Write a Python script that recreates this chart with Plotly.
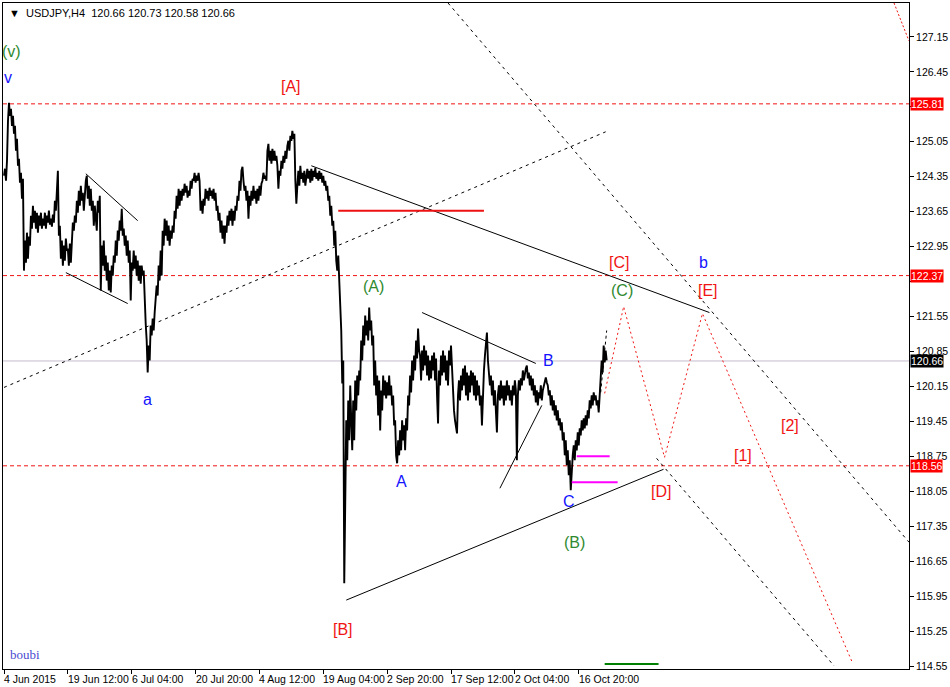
import plotly.graph_objects as go

# USDJPY H4 price path (one value per bar)
price = [
124.37,124.51,124.27,124.67,125.47,125.83,125.57,125.71,125.37,125.57,
125.21,125.37,124.87,125.11,124.57,124.71,124.23,124.43,123.91,124.31,
122.47,123.07,122.63,123.23,122.71,123.15,122.97,123.57,123.31,123.77,
123.43,123.67,123.31,123.63,123.23,123.57,123.37,123.63,123.31,123.51,
123.37,123.63,123.31,123.57,123.43,123.67,123.39,123.51,123.35,123.59,
123.43,123.87,123.67,124.17,124.47,123.17,123.37,122.71,123.07,122.57,
122.97,122.67,123.11,122.87,122.91,122.57,123.01,122.63,123.07,123.43,
123.27,123.57,123.43,123.87,123.63,124.07,123.77,124.17,123.87,124.03,
123.67,124.07,124.27,124.37,123.91,124.17,123.77,124.11,123.67,123.87,
123.37,123.77,123.47,123.27,123.87,123.63,123.97,122.07,122.97,122.57,
123.07,122.47,122.77,122.27,122.63,122.07,122.47,122.03,122.57,122.37,
122.77,122.63,123.07,122.77,123.27,123.07,123.47,123.27,123.71,123.17,
123.31,122.97,123.17,122.77,123.07,122.63,122.87,121.87,122.63,122.47,
122.87,122.51,122.77,122.37,122.67,122.27,122.57,122.21,122.57,122.37,
122.47,121.67,121.41,121.07,120.43,120.97,120.67,121.37,121.17,121.51,
121.27,121.63,121.87,122.17,121.97,122.57,122.27,122.87,122.37,123.27,
122.97,123.51,123.17,123.47,123.07,123.37,122.97,123.27,123.11,123.37,
123.23,123.67,123.51,123.97,123.71,124.11,123.77,124.07,123.87,124.11,
123.97,124.21,124.03,124.17,123.93,124.07,123.97,124.27,124.11,124.31,
124.27,124.43,124.23,124.37,124.27,124.43,124.27,123.67,123.87,123.61,
123.91,123.77,124.11,123.91,124.07,123.87,124.13,123.97,124.07,123.91,
124.11,123.87,124.03,123.67,123.77,123.47,123.63,123.23,123.47,123.11,
123.37,123.01,123.37,123.23,123.57,123.37,123.67,123.47,123.71,123.37,
123.67,123.47,123.77,123.67,123.97,123.87,124.27,124.07,124.47,124.55,
124.27,124.07,124.17,123.87,124.07,123.51,123.97,123.77,124.07,123.87,
124.17,123.91,124.07,123.81,124.11,123.87,124.17,123.97,124.21,124.27,
124.43,124.31,124.37,124.27,124.87,125.01,124.67,124.87,124.61,124.91,
124.67,124.87,124.67,124.77,124.57,124.11,124.47,124.37,124.67,124.51,
124.77,124.63,124.87,124.71,124.97,125.07,124.87,125.17,125.07,125.27,
125.11,125.21,124.27,123.81,124.17,124.47,124.17,124.57,124.31,124.43,
124.23,124.47,124.17,124.37,124.51,124.31,124.47,124.23,124.51,124.27,
124.47,124.35,124.53,124.31,124.43,124.27,124.47,124.31,124.43,124.23,
124.37,124.17,124.27,124.07,124.17,123.87,123.97,123.57,123.77,123.37,
123.47,122.97,123.27,122.67,122.47,122.77,122.17,121.87,121.27,120.21,
120.67,116.21,118.27,119.47,118.67,119.87,119.07,120.17,119.47,118.87,
119.87,119.07,120.27,119.67,120.37,119.97,120.47,120.27,121.07,120.67,
121.37,120.97,121.57,121.17,121.47,121.07,121.73,121.27,121.47,120.97,
121.17,120.17,120.67,119.97,120.37,119.57,120.27,119.27,120.07,119.67,
120.37,119.97,120.27,119.91,120.23,119.97,120.37,119.97,120.17,119.77,
119.97,119.37,119.47,118.77,118.61,119.07,118.77,119.27,118.87,119.47,
119.07,119.37,118.87,119.51,119.27,119.97,119.77,120.37,120.03,120.67,
120.27,120.77,120.47,121.07,120.71,121.31,120.87,120.77,120.27,120.87,
120.47,120.97,120.57,120.87,120.37,120.77,120.27,120.67,120.31,120.77,
120.47,120.83,120.27,120.71,119.97,119.41,120.47,120.17,120.77,120.37,
120.87,120.43,120.77,120.27,120.67,120.17,120.87,120.57,120.97,120.47,
119.97,119.67,119.47,119.37,119.21,119.97,120.27,119.87,120.37,120.07,
120.51,120.17,120.57,119.97,120.43,119.87,120.37,120.03,120.47,120.17,
120.43,119.97,120.37,119.87,120.27,119.97,120.17,119.77,119.97,119.37,
120.07,120.47,120.77,121.07,121.23,120.67,120.47,120.17,120.37,119.97,
120.27,119.77,120.07,119.47,119.23,119.97,120.17,119.87,120.27,119.91,
120.17,119.77,120.17,119.87,120.27,119.97,120.17,119.87,120.07,119.77,
120.17,119.97,120.27,120.07,118.67,119.97,120.27,120.07,120.31,120.17,
120.47,120.27,120.43,120.51,120.57,120.31,120.43,120.17,120.37,120.07,
120.31,119.97,120.17,119.83,120.07,119.77,120.03,119.91,120.17,119.87,
120.07,120.17,120.27,120.33,120.23,120.17,119.97,120.07,119.77,119.97,
119.67,119.87,119.57,119.77,119.47,119.67,119.37,119.51,119.27,119.43,
119.07,119.23,118.77,119.07,118.57,118.87,118.37,118.67,118.07,118.47,
118.77,118.97,118.67,119.07,118.87,119.23,118.97,119.31,119.17,119.47,
119.27,119.51,119.31,119.57,119.37,119.67,119.51,119.87,119.71,119.97,
119.77,120.03,119.87,119.97,119.77,119.87,119.63,119.97,120.27,120.67,
120.43,120.97,120.63,120.87,120.67,
]
bars = list(range(len(price)))

tick_bars = [0, 64, 128, 192, 256, 320, 384, 448, 512, 576]
tick_labels = ["4 Jun 2015", "19 Jun 12:00", "6 Jul 04:00", "20 Jul 20:00",
               "4 Aug 12:00", "19 Aug 04:00", "2 Sep 20:00", "17 Sep 12:00",
               "2 Oct 04:00", "16 Oct 20:00"]
price_ticks = [114.55, 115.25, 115.95, 116.65, 117.35, 118.05, 118.75, 119.45,
               120.15, 120.85, 121.55, 122.25, 122.95, 123.65, 124.35, 125.05,
               125.75, 126.45, 127.15]
red_levels = [125.81, 122.37, 118.56]
bid_level = 120.66
ohlc_last = [120.66, 120.73, 120.58, 120.66]

FONT = "Liberation Sans"
RED = "#f01414"
BLUE = "#1414ff"
GREEN = "#2f8a2f"

fig = go.Figure()
fig.add_trace(go.Scatter(x=bars, y=price, mode="lines",
                         line=dict(color="black", width=1.9),
                         hoverinfo="skip", showlegend=False))

shapes = []
shapes.append(dict(type="line", xref="paper", x0=0, x1=1, yref="y",
                   y0=bid_level, y1=bid_level, layer="below",
                   line=dict(color="#c4bccc", width=1)))
for lv in red_levels:
    shapes.append(dict(type="line", xref="paper", x0=0, x1=1, yref="y",
                       y0=lv, y1=lv, layer="below",
                       line=dict(color=RED, width=1, dash="4px,3px")))

# analyst drawings: (x0, y0, x1, y1, color, width, dash)
drawings = [
    (0, 120.13, 603, 125.25, "black", 1, "3px,4px"),
    (445, 127.83, 907, 117.03, "black", 1, "3px,4px"),
    (654, 118.71, 832, 114.55, "black", 1, "3px,4px"),
    (308, 124.57, 707, 121.63, "black", 1, "solid"),
    (343, 115.87, 661, 118.49, "black", 1, "solid"),
    (82, 124.41, 134, 123.47, "black", 1, "solid"),
    (62, 122.43, 124, 121.81, "black", 1, "solid"),
    (419, 121.63, 533, 120.61, "black", 1, "solid"),
    (497, 118.11, 539, 119.77, "black", 1, "solid"),
    (335, 123.67, 481, 123.67, "#ee1111", 2, "solid"),
    (574, 118.75, 607, 118.75, "#ff00ff", 2, "solid"),
    (569, 118.23, 615, 118.23, "#ff00ff", 2, "solid"),
    (602, 114.59, 656, 114.59, "#008000", 2, "solid"),
    (598, 120.03, 604, 121.27, "black", 1, "3px,3px"),
    (892, 127.83, 907, 127.07, RED, 1, "2px,2px"),
]
for x0, y0, x1, y1, c, w, d in drawings:
    shapes.append(dict(type="line", xref="x", yref="y", x0=x0, y0=y0, x1=x1, y1=y1,
                       line=dict(color=c, width=w, dash=d)))

proj_x = [602, 621, 662, 700, 850]
proj_y = [120.01, 121.75, 118.73, 121.61, 114.63]
fig.add_trace(go.Scatter(x=proj_x, y=proj_y, mode="lines",
                         line=dict(color=RED, width=1, dash="2px,3px"),
                         hoverinfo="skip", showlegend=False))

annotations = []
labels = [
    ("(v)", 8, 126.85, GREEN), ("v", 4, 126.33, BLUE), ("[A]", 288, 126.15, RED),
    ("a", 144, 119.89, BLUE), ("[B]", 340, 115.29, RED), ("(A)", 370, 122.15, GREEN),
    ("A", 398, 118.25, BLUE), ("B", 546, 120.67, BLUE), ("C", 566, 117.85, BLUE),
    ("(B)", 572, 117.03, GREEN), ("[C]", 616, 122.63, RED), ("(C)", 619, 122.07, GREEN),
    ("b", 701, 122.63, BLUE), ("[E]", 706, 122.07, RED), ("[D]", 658, 118.05, RED),
    ("[1]", 741, 118.77, RED), ("[2]", 788, 119.37, RED),
]
for t, x, y, c in labels:
    annotations.append(dict(text=t, x=x, y=y, xref="x", yref="y", showarrow=False,
                            xanchor="center", yanchor="middle",
                            font=dict(family=FONT, size=16, color=c)))

for lv, bg in [(125.81, "#ff0000"), (122.37, "#ff0000"), (118.56, "#ff0000"), (bid_level, "black")]:
    annotations.append(dict(text=f"{lv:.2f}", x=1, y=lv, xref="paper", yref="y",
                            xanchor="left", yanchor="middle", showarrow=False,
                            xshift=1, bgcolor=bg, borderpad=0,
                            font=dict(family=FONT, size=10.5, color="white")))

for b, t in zip(tick_bars, tick_labels):
    annotations.append(dict(text=t, x=b, y=0, xref="x", yref="paper",
                            xanchor="left", yanchor="top", showarrow=False,
                            xshift=-2, yshift=-2,
                            font=dict(family=FONT, size=10.5, color="black")))

title_txt = "\u25BC\u00a0\u00a0USDJPY,H4\u00a0\u00a0" + "\u00a0".join(f"{v:.2f}" for v in ohlc_last)
annotations.append(dict(text=title_txt, x=0, y=1, xref="paper", yref="paper",
                        xanchor="left", yanchor="top", showarrow=False,
                        xshift=4, yshift=-2,
                        font=dict(family=FONT, size=11, color="black")))
annotations.append(dict(text="boubi", x=0, y=0, xref="paper", yref="paper",
                        xanchor="left", yanchor="bottom", showarrow=False,
                        xshift=5, yshift=5,
                        font=dict(family="Liberation Serif", size=13, color="#4a4ad0")))

# tick labels hidden under the price boxes are left blank
covered = {125.75, 122.25}
tick_text = ["" if v in covered else f"{v:.2f}" for v in price_ticks]

fig.update_layout(
    width=950, height=687,
    margin=dict(l=2, r=40, t=2, b=18),
    paper_bgcolor="white", plot_bgcolor="white",
    shapes=shapes, annotations=annotations, showlegend=False,
    xaxis=dict(range=[-1, 907], showgrid=False, zeroline=False, showline=True,
               linecolor="black", linewidth=1, mirror=True, ticks="outside",
               ticklen=4, tickcolor="black", tickvals=tick_bars,
               showticklabels=False, fixedrange=True),
    yaxis=dict(range=[114.49, 127.83], side="right", showgrid=False, zeroline=False,
               showline=True, linecolor="black", linewidth=1, mirror=True,
               ticks="outside", ticklen=4, tickcolor="black", tickvals=price_ticks,
               ticktext=tick_text,
               tickfont=dict(family=FONT, size=10.5, color="black"), fixedrange=True),
)

fig.write_html("out.html", config={"displayModeBar": False},
               post_script="document.body.style.margin='0';document.body.style.padding='0';")
